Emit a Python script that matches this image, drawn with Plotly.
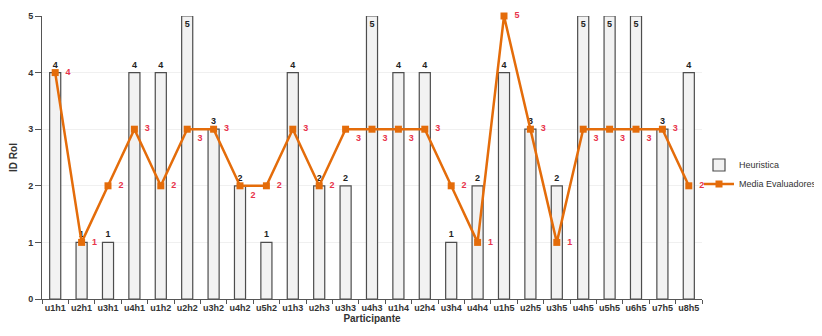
import plotly.graph_objects as go

participantes = ["u1h1", "u2h1", "u3h1", "u4h1", "u1h2", "u2h2", "u3h2", "u4h2", "u5h2",
                 "u1h3", "u2h3", "u3h3", "u4h3", "u1h4", "u2h4", "u3h4", "u4h4",
                 "u1h5", "u2h5", "u3h5", "u4h5", "u5h5", "u6h5", "u7h5", "u8h5"]
heuristica = [4, 1, 1, 4, 4, 5, 3, 2, 1, 4, 2, 2, 5, 4, 4, 1, 2, 4, 3, 2, 5, 5, 5, 3, 4]
media_evaluadores = [4, 1, 2, 3, 2, 3, 3, 2, 2, 3, 2, 3, 3, 3, 3, 2, 1, 5, 3, 1, 3, 3, 3, 3, 2]
y_ticks = [0, 1, 2, 3, 4, 5]

# label placement style (Excel-like)
media_label_pos = ["middle right", "middle right", "middle right", "middle right", "middle right",
                   "bottom right", "middle right", "bottom right", "middle right", "middle right",
                   "middle right", "bottom right", "bottom right", "bottom right", "middle right",
                   "middle right", "middle right", "middle right", "middle right", "middle right",
                   "bottom right", "bottom right", "bottom right", "middle right", "middle right"]
bar_label_pos = ["inside" if v >= max(y_ticks) else "outside" for v in heuristica]

fig = go.Figure()
fig.add_trace(go.Bar(
    x=participantes, y=heuristica, name="Heuristica",
    marker=dict(color="#f2f2f2", line=dict(color="#4d4d4d", width=1.2)),
    width=0.42,
    text=[str(v) for v in heuristica], textposition=bar_label_pos,
    insidetextanchor="end", constraintext="none", cliponaxis=False,
    textfont=dict(family="Liberation Sans", size=9, color="#222", weight="bold"),
))
fig.add_trace(go.Scatter(
    x=participantes, y=media_evaluadores, name="Media Evaluadores",
    mode="lines+markers+text",
    line=dict(color="#e46c0a", width=2.5),
    marker=dict(symbol="square", size=7, color="#e46c0a"),
    text=["  " + str(v) for v in media_evaluadores], textposition=media_label_pos,
    textfont=dict(family="Liberation Sans", size=9, color="#e8334a", weight="bold"),
    cliponaxis=False,
))

fig.update_layout(
    width=814, height=328,
    margin=dict(l=34, r=120, t=8, b=37, autoexpand=False),
    paper_bgcolor="white", plot_bgcolor="white",
    font=dict(family="Liberation Sans", color="#333"),
    legend=dict(x=1, y=0.44, xref="container", xanchor="right", yanchor="middle",
                font=dict(size=9, color="#333"), tracegroupgap=2, itemwidth=30,
                bgcolor="rgba(0,0,0,0)"),
    bargap=0.5,
)
fig.update_xaxes(
    title=dict(text="Participante", font=dict(size=10, weight="bold", color="#333"), standoff=2),
    tickfont=dict(size=9, weight="bold", color="#333"), tickangle=0,
    range=[-0.5, len(participantes) - 0.5], automargin=False,
    showline=True, linecolor="#555", linewidth=1,
    ticks="outside", ticklen=4, tickcolor="#555", tickson="boundaries",
    showgrid=False,
)
fig.update_yaxes(
    title=dict(text="ID Rol", font=dict(size=10, weight="bold", color="#333"), standoff=10),
    tickfont=dict(size=9, weight="bold", color="#333"),
    range=[0, 5], tickvals=y_ticks, automargin=False,
    showline=True, linecolor="#555", linewidth=1,
    ticks="outside", ticklen=6, tickcolor="#555",
    showgrid=True, gridcolor="#f0f0f0", gridwidth=1, zeroline=False,
)

fig.write_html("out.html")
